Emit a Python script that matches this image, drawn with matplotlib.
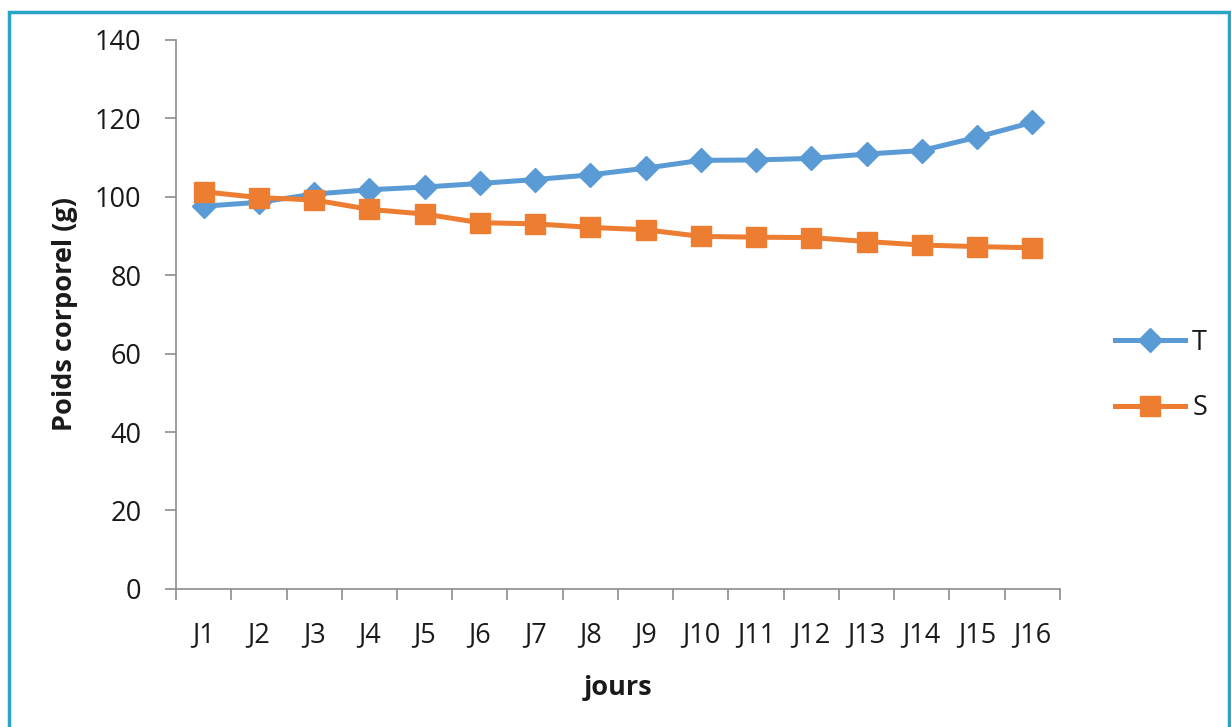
import matplotlib.pyplot as plt
from matplotlib.patches import Rectangle

jours = ["J1", "J2", "J3", "J4", "J5", "J6", "J7", "J8",
         "J9", "J10", "J11", "J12", "J13", "J14", "J15", "J16"]
T = [97.6, 98.6, 100.7, 101.8, 102.5, 103.4, 104.4, 105.6,
     107.3, 109.3, 109.4, 109.8, 110.9, 111.8, 115.2, 119.0]
S = [101.3, 99.8, 99.2, 96.8, 95.6, 93.4, 93.1, 92.2,
     91.6, 89.9, 89.7, 89.6, 88.6, 87.7, 87.3, 87.0]

plt.rcParams['font.family'] = ['Open Sans', 'DejaVu Sans']
FS = 19.5
TXT = "#1a1a1a"

fig = plt.figure(figsize=(12.31, 7.27), dpi=100)
ax = fig.add_axes([0.143, 0.19, 0.718, 0.755])

x = range(len(jours))
ax.plot(x, T, color="#5B9BD5", lw=3.6, marker="D", ms=12, label="T")
ax.plot(x, S, color="#ED7D31", lw=3.6, marker="s", ms=14, label="S")

ax.set_xlim(-0.5, len(jours) - 0.5)
ax.set_ylim(0, 140)
ax.set_yticks(range(0, 141, 20))
ax.set_xticks(list(x))
ax.set_xticklabels(jours)
ax.set_xticks([i - 0.5 for i in range(len(jours) + 1)], minor=True)
ax.tick_params(axis="x", which="major", length=0, labelsize=FS, pad=23, labelcolor=TXT)
ax.tick_params(axis="x", which="minor", length=8, color="#8c8c8c", width=1.2)
ax.tick_params(axis="y", length=8, color="#8c8c8c", width=1.2, labelsize=FS, pad=17,
               labelcolor=TXT)

for s in ["top", "right"]:
    ax.spines[s].set_visible(False)
for s in ["left", "bottom"]:
    ax.spines[s].set_color("#8c8c8c")
    ax.spines[s].set_linewidth(1.2)

ax.set_ylabel("Poids corporel (g)", fontsize=FS, fontweight="bold", labelpad=12, color=TXT)
ax.set_xlabel("jours", fontsize=FS, fontweight="bold", labelpad=19, color=TXT)

fig.legend(loc="center left", bbox_to_anchor=(0.886, 0.4835), frameon=False,
           fontsize=FS, handlelength=2.6, handletextpad=0.25, labelspacing=1.4,
           labelcolor=TXT)

# outer frame
fig.patches.append(Rectangle((0.007, -0.01), 0.991, 0.994, transform=fig.transFigure,
                             fill=False, edgecolor="#2AA5C5", lw=2.5))

fig.savefig("out.png", dpi=100)
